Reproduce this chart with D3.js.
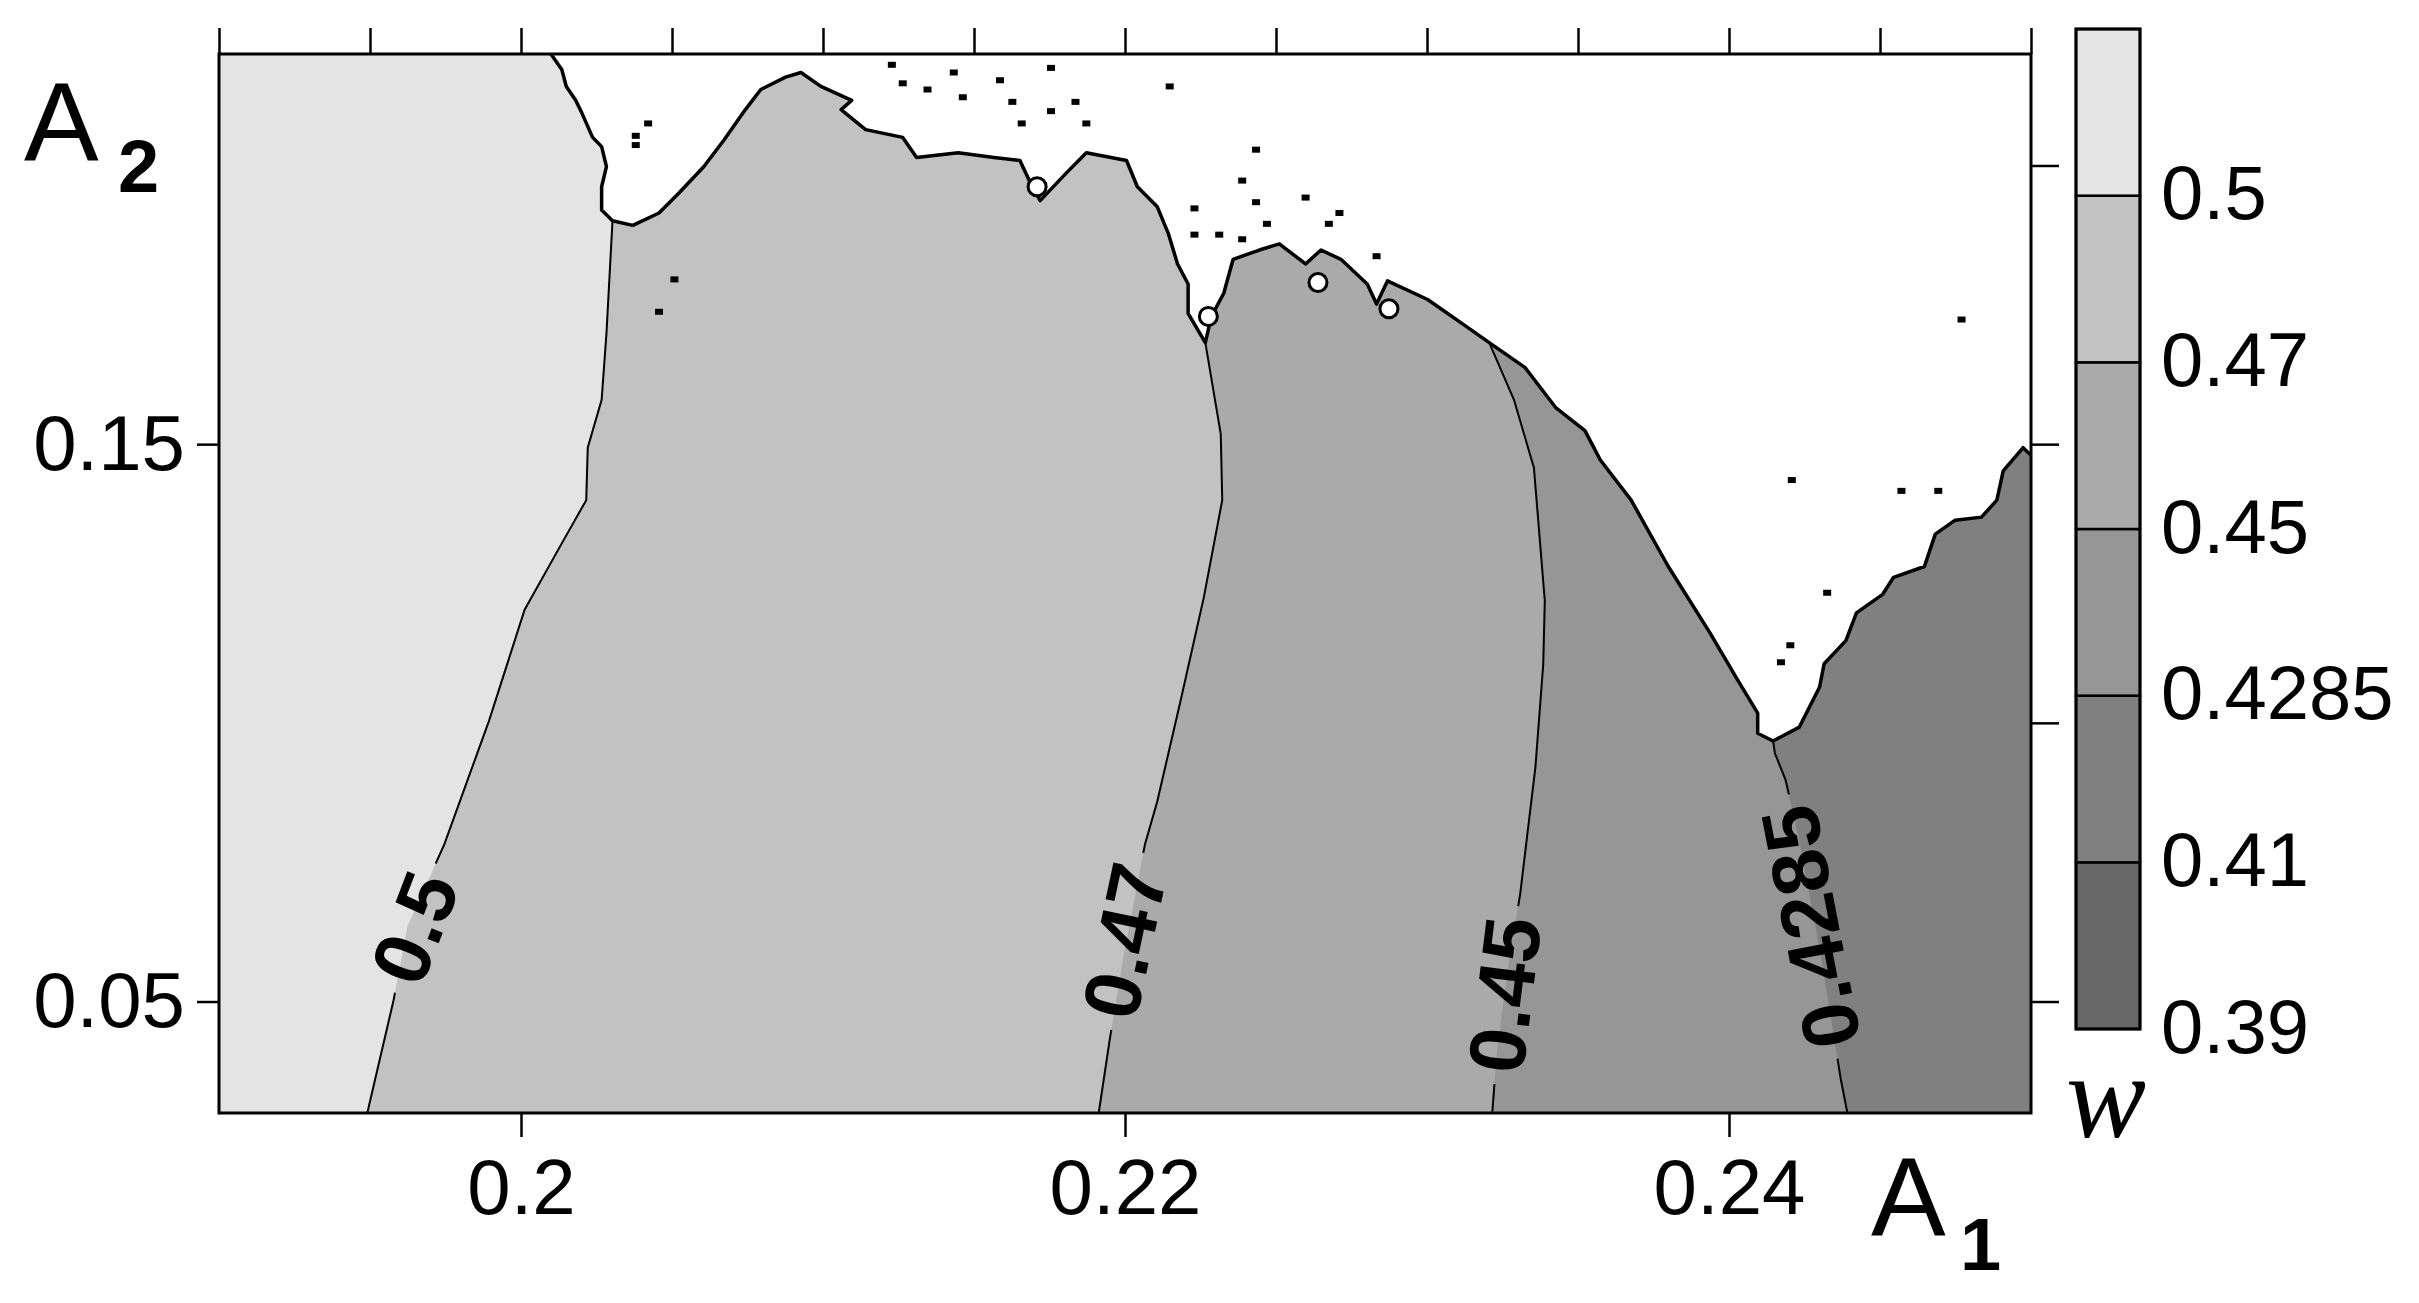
<!DOCTYPE html>
<html>
<head>
<meta charset="utf-8">
<script src="https://cdn.jsdelivr.net/npm/d3@7"></script>
<style>
  html, body { margin: 0; padding: 0; background: #fff; }
  svg { display: block; }
</style>
</head>
<body>
<svg id="chart" width="2419" height="1303"></svg>
<script>
// w levels on the colour bar, bottom to top, and the grey of each band above them
const levels = [0.39, 0.41, 0.4285, 0.45, 0.47, 0.5];
const levelColors = ["#676767", "#808080", "#969696", "#aaaaaa", "#c2c2c2", "#e4e4e4"];

const xTicksTop = [0.19, 0.195, 0.2, 0.205, 0.21, 0.215, 0.22, 0.225, 0.23, 0.235, 0.24, 0.245, 0.25];
const xTicksBottom = [0.2, 0.22, 0.24];
const yTicksLeft = [0.15, 0.05];
const yTicksRight = [0.2, 0.15, 0.1, 0.05];

// contour lines as [A1, A2], from the bottom edge up to the white zone
const contour05 = [[0.19491, 0.03], [0.19578, 0.05022], [0.19624, 0.06351], [0.19746, 0.07819], [0.19894, 0.10035],
  [0.20012, 0.12029], [0.20135, 0.13220], [0.20216, 0.13996], [0.20221, 0.14937], [0.20267, 0.15796],
  [0.20283, 0.16987], [0.20303, 0.19009]];
const contour047 = [[0.21913, 0.03], [0.21949, 0.04302], [0.21995, 0.05797], [0.22066, 0.07819], [0.22107, 0.08595],
  [0.22184, 0.10395], [0.22261, 0.12251], [0.22322, 0.13996], [0.22317, 0.15187], [0.22266, 0.16821]];
const contour045 = [[0.23216, 0.03], [0.23232, 0.04135], [0.23273, 0.05797], [0.23308, 0.06905], [0.23359, 0.09204],
  [0.23385, 0.1106], [0.2339, 0.12195], [0.23354, 0.14577], [0.23288, 0.15796], [0.23206, 0.16821]];
const contour04285 = [[0.24392, 0.03], [0.24371, 0.03582], [0.24305, 0.05797], [0.24228, 0.08013], [0.24187, 0.08982],
  [0.24152, 0.09453], [0.24146, 0.09675]];

// edge of the white (no value) zone, from the top edge to the right edge
const whiteEdge = [[0.20099, 0.22], [0.20135, 0.21723], [0.20150, 0.21418], [0.20181, 0.21169], [0.20201, 0.20948],
  [0.20237, 0.20504], [0.20267, 0.20338], [0.20283, 0.19978], [0.20267, 0.19618], [0.20267, 0.19203],
  [0.20303, 0.19009], [0.20370, 0.18926], [0.20457, 0.19147], [0.20523, 0.19507], [0.20605, 0.19978],
  [0.20671, 0.20449], [0.20743, 0.21003], [0.20794, 0.21363], [0.20876, 0.21585], [0.20927, 0.21668],
  [0.20993, 0.21418], [0.21095, 0.21169], [0.21060, 0.21003], [0.21141, 0.20643], [0.21264, 0.20504],
  [0.21310, 0.20144], [0.21448, 0.20227], [0.21566, 0.20144], [0.21652, 0.20089], [0.21683, 0.19729],
  [0.21719, 0.19369], [0.21806, 0.19867], [0.21872, 0.20227], [0.22005, 0.20089], [0.22041, 0.19618],
  [0.22107, 0.19258], [0.22143, 0.18787], [0.22174, 0.18233], [0.22209, 0.17873], [0.22209, 0.17347],
  [0.22266, 0.16821], [0.22286, 0.17292], [0.22327, 0.17707], [0.22358, 0.18316], [0.22445, 0.18483],
  [0.22511, 0.18593], [0.22598, 0.18233], [0.22649, 0.18483], [0.22715, 0.18316], [0.22802, 0.17873],
  [0.22833, 0.17513], [0.22869, 0.17929], [0.23002, 0.17596], [0.23119, 0.17153], [0.23206, 0.16821],
  [0.23324, 0.16378], [0.23426, 0.15657], [0.23523, 0.15242], [0.23574, 0.14716], [0.23676, 0.13996],
  [0.23799, 0.12805], [0.23937, 0.11614], [0.24024, 0.10810], [0.24095, 0.10173], [0.24095, 0.09813],
  [0.24146, 0.09675], [0.24233, 0.09924], [0.24300, 0.10644], [0.24315, 0.11060], [0.24387, 0.11475],
  [0.24422, 0.11974], [0.24509, 0.12306], [0.24545, 0.12611], [0.24647, 0.12805], [0.24683, 0.13386],
  [0.24749, 0.13636], [0.24836, 0.13691], [0.24887, 0.13996], [0.24908, 0.14522], [0.24974, 0.14937],
  [0.25, 0.14799]];

// stray points in and near the white zone
const specks = [[0.21228, 0.21806], [0.21433, 0.21668], [0.21755, 0.21751], [0.21586, 0.21529], [0.21346, 0.21363],
  [0.21463, 0.21224], [0.21264, 0.21474], [0.21627, 0.21141], [0.21836, 0.21141], [0.21755, 0.20975],
  [0.21658, 0.20754], [0.21872, 0.20754], [0.22148, 0.21418], [0.22434, 0.20283], [0.22388, 0.19729],
  [0.22598, 0.19424], [0.22434, 0.19341], [0.2271, 0.19147], [0.2223, 0.1923], [0.2247, 0.18953],
  [0.22675, 0.18953], [0.2223, 0.18759], [0.22312, 0.18759], [0.22388, 0.18676], [0.22833, 0.18372],
  [0.20421, 0.20754], [0.2038, 0.20532], [0.2038, 0.20366], [0.20508, 0.17956], [0.20457, 0.17375],
  [0.2477, 0.17236], [0.24208, 0.14356], [0.24571, 0.14162], [0.24693, 0.14162], [0.24325, 0.12334],
  [0.24203, 0.11392], [0.24172, 0.11087]];
const holes = [[0.22639, 0.17901], [0.22874, 0.1743], [0.21709, 0.19618], [0.22276, 0.17292]];

const contourLabels = [
  { text: "0.5", a1: 0.19649, a2: 0.06319, angle: -69 },
  { text: "0.47", a1: 0.22, a2: 0.06086, angle: -78 },
  { text: "0.45", a1: 0.23258, a2: 0.05117, angle: -83 },
  { text: "0.4285", a1: 0.24272, a2: 0.06337, angle: -101 }
];

const W = 2419, H = 1303;
const plot = { left: 219, right: 2031, top: 54, bottom: 1113 };
const sans = "'Liberation Sans', Arial, sans-serif";

const svg = d3.select("#chart");
const defs = svg.append("defs");

const x = d3.scaleLinear().domain([0.19, 0.25]).range([plot.left, plot.right]);
const y = d3.scaleLinear().domain([0.03, 0.22]).range([plot.bottom, plot.top]);
const line = d3.line().x(d => x(d[0])).y(d => y(d[1]));

defs.append("clipPath").attr("id", "plotClip")
  .append("rect")
  .attr("x", plot.left).attr("y", plot.top)
  .attr("width", plot.right - plot.left).attr("height", plot.bottom - plot.top);

const map = svg.append("g").attr("clip-path", "url(#plotClip)");

// darkest band present fills the whole plot, lighter bands are laid over it
map.append("rect")
  .attr("x", plot.left).attr("y", plot.top)
  .attr("width", plot.right - plot.left).attr("height", plot.bottom - plot.top)
  .attr("fill", levelColors[1]);

function band(contour) {
  var last = contour[contour.length - 1];
  return [[0.19, 0.03]].concat(contour, [[last[0], 0.22], [0.19, 0.22]]);
}

[[contour04285, 2], [contour045, 3], [contour047, 4], [contour05, 5]].forEach(function (c) {
  map.append("path")
    .attr("d", line(band(c[0])) + "Z")
    .attr("fill", levelColors[c[1]]);
});

map.append("path")
  .attr("d", line(whiteEdge.concat([[0.25, 0.22]])) + "Z")
  .attr("fill", "#fff");

// labels cut gaps into the contour lines
const gapMask = defs.append("mask").attr("id", "labelGaps")
  .attr("maskUnits", "userSpaceOnUse")
  .attr("x", 0).attr("y", 0).attr("width", W).attr("height", H);
gapMask.append("rect").attr("width", W).attr("height", H).attr("fill", "#fff");

const lines = map.append("g").attr("mask", "url(#labelGaps)");
[contour05, contour047, contour045, contour04285].forEach(function (c) {
  lines.append("path")
    .attr("d", line(c))
    .attr("fill", "none")
    .attr("stroke", "#000")
    .attr("stroke-width", 2);
});

const labelG = map.append("g");
contourLabels.forEach(function (d) {
  var t = labelG.append("text")
    .attr("transform", `translate(${x(d.a1)},${y(d.a2)}) rotate(${d.angle})`)
    .attr("text-anchor", "middle")
    .attr("dominant-baseline", "central")
    .attr("font-family", sans)
    .attr("font-weight", "bold")
    .attr("font-size", 80)
    .attr("fill", "#000")
    .text(d.text);
  var len = t.node().getComputedTextLength() + 24;
  gapMask.append("rect")
    .attr("x", -len / 2).attr("y", -34)
    .attr("width", len).attr("height", 68)
    .attr("transform", `translate(${x(d.a1)},${y(d.a2)}) rotate(${d.angle})`)
    .attr("fill", "#000");
});

map.selectAll("rect.speck")
  .data(specks)
  .join("rect")
  .attr("class", "speck")
  .attr("x", d => x(d[0]) - 4)
  .attr("y", d => y(d[1]) - 3)
  .attr("width", 8)
  .attr("height", 6)
  .attr("fill", "#000");

map.append("path")
  .attr("d", line(whiteEdge))
  .attr("fill", "none")
  .attr("stroke", "#000")
  .attr("stroke-width", 3.5)
  .attr("stroke-linejoin", "round");

map.selectAll("circle.hole")
  .data(holes)
  .join("circle")
  .attr("class", "hole")
  .attr("cx", d => x(d[0]))
  .attr("cy", d => y(d[1]))
  .attr("r", 9)
  .attr("fill", "#fff")
  .attr("stroke", "#000")
  .attr("stroke-width", 3);

// frame
svg.append("rect")
  .attr("x", plot.left).attr("y", plot.top)
  .attr("width", plot.right - plot.left).attr("height", plot.bottom - plot.top)
  .attr("fill", "none")
  .attr("stroke", "#000")
  .attr("stroke-width", 3);

function styleAxis(g) {
  g.select(".domain").remove();
  g.selectAll(".tick line").attr("stroke", "#000").attr("stroke-width", 2.5);
  g.selectAll(".tick text").attr("fill", "#000");
  g.attr("font-family", sans).attr("font-size", 78);
}

svg.append("g")
  .attr("transform", `translate(0,${plot.top})`)
  .call(d3.axisTop(x).tickValues(xTicksTop).tickSize(26).tickFormat(""))
  .call(styleAxis);

svg.append("g")
  .attr("transform", `translate(0,${plot.bottom})`)
  .call(d3.axisBottom(x).tickValues(xTicksBottom).tickSize(24).tickPadding(22).tickFormat(d => String(d)))
  .call(styleAxis);

svg.append("g")
  .attr("transform", `translate(${plot.left},0)`)
  .call(d3.axisLeft(y).tickValues(yTicksLeft).tickSize(22).tickPadding(12).tickFormat(d => String(d)))
  .call(styleAxis);

svg.append("g")
  .attr("transform", `translate(${plot.right},0)`)
  .call(d3.axisRight(y).tickValues(yTicksRight).tickSize(28).tickFormat(""))
  .call(styleAxis);

// colour bar
const bar = { left: 2076, width: 64 };
const by = d3.scaleLinear().domain([0, levels.length]).range([1029, 29]);
const cbar = svg.append("g");
cbar.selectAll("rect")
  .data(levelColors)
  .join("rect")
  .attr("x", bar.left)
  .attr("y", (d, i) => by(i + 1))
  .attr("width", bar.width)
  .attr("height", (d, i) => by(i) - by(i + 1))
  .attr("fill", d => d)
  .attr("stroke", "#000")
  .attr("stroke-width", 2.5);
cbar.append("rect")
  .attr("x", bar.left).attr("y", by(levels.length))
  .attr("width", bar.width).attr("height", by(0) - by(levels.length))
  .attr("fill", "none").attr("stroke", "#000").attr("stroke-width", 3);
cbar.selectAll("text")
  .data(levels)
  .join("text")
  .attr("x", 2161)
  .attr("y", (d, i) => by(i) - 3)
  .attr("dominant-baseline", "central")
  .attr("font-family", sans)
  .attr("font-size", 76)
  .attr("fill", "#000")
  .text(d => String(d));

svg.append("text")
  .attr("x", 2066).attr("y", 1137)
  .attr("font-family", "'Liberation Serif', 'Times New Roman', serif")
  .attr("font-style", "italic")
  .attr("font-size", 120)
  .text("w");

// axis titles
function axisTitle(ax, ay, sub, sx, sy) {
  var t = svg.append("g").attr("font-family", sans).attr("fill", "#000");
  t.append("text").attr("x", ax).attr("y", ay).attr("font-size", 112).text("A");
  t.append("text").attr("x", sx).attr("y", sy).attr("font-size", 74).attr("font-weight", "bold").text(sub);
}
axisTitle(24, 160, "2", 118, 192);
axisTitle(1871, 1235, "1", 1960, 1270);
</script>
</body>
</html>
